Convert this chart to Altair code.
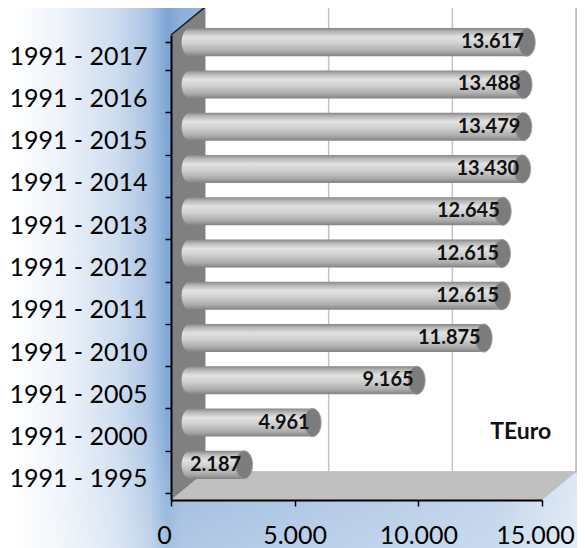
import altair as alt
import pandas as pd

# ---------------- data ----------------
periods = ["1991 - 2017", "1991 - 2016", "1991 - 2015", "1991 - 2014", "1991 - 2013",
           "1991 - 2012", "1991 - 2011", "1991 - 2010", "1991 - 2005", "1991 - 2000",
           "1991 - 1995"]
values = [13617, 13488, 13479, 13430, 12645, 12615, 12615, 11875, 9165, 4961, 2187]
x_ticks = [0, 5000, 10000, 15000]
unit_label = "TEuro"
unit_value_pos = 14140
unit_period_pos = "1991 - 2000"

# ---------------- geometry / style ----------------
W, H = 371, 465
N = len(periods)
X_MAX = 15000
DEPTH_X = 1375      # 3-D depth in value units (~34 px)
DEPTH_Y = 0.66      # 3-D depth in category units (~28 px)
BAR_DX, BAR_DY = 19, -14
FONT = "Lato"

df = pd.DataFrame({"period": periods, "value": values})
df["start"] = 0
df["label"] = [f"{v:,}".replace(",", ".") for v in values]

x_scale = alt.Scale(domain=[0, X_MAX], nice=False, zero=True)
y_band = alt.Scale(domain=periods, paddingInner=0.337, paddingOuter=0.1685)
y_lin = alt.Scale(domain=[0, N], nice=False, zero=False)

x_axis = alt.Axis(values=x_ticks, labelExpr="replace(format(datum.value, ','), ',', '.')",
                  labelFont="Lato", labelFontSize=25, labelColor="black", labelFlush=False,
                  labelOffset={"condition": {"test": f"datum.value == 0 || datum.value == {X_MAX}",
                                             "value": -7}, "value": 0},
                  tickColor="black", tickSize=6, tickWidth=1.5, domainColor="black",
                  domainWidth=2, grid=False, title=None, labelPadding=17, zindex=2)
y_axis = alt.Axis(labelFont="Lato", labelFontSize=25, labelColor="black", tickBand="extent",
                  tickColor="black", tickSize=6, tickWidth=1.5, domainColor="black",
                  domainWidth=2, grid=False, title=None, labelPadding=18, zindex=2)

bar_grad = alt.Gradient(
    gradient="linear", x1=0, x2=0, y1=0, y2=1,
    stops=[alt.GradientStop(offset=0.0, color="#868686"),
           alt.GradientStop(offset=0.12, color="#b4b4b4"),
           alt.GradientStop(offset=0.32, color="#e2e2e2"),
           alt.GradientStop(offset=0.55, color="#cfcfcf"),
           alt.GradientStop(offset=0.82, color="#adadad"),
           alt.GradientStop(offset=1.0, color="#828282")])

bg_grad = alt.Gradient(
    gradient="linear", x1=0, x2=1, y1=0, y2=0,
    stops=[alt.GradientStop(offset=0.0, color="#ffffff"),
           alt.GradientStop(offset=0.02, color="#ffffff"),
           alt.GradientStop(offset=0.1, color="#eef3fa"),
           alt.GradientStop(offset=0.2, color="#cddcef"),
           alt.GradientStop(offset=0.255, color="#a9c3e3"),
           alt.GradientStop(offset=0.286, color="#7ba4d4"),
           alt.GradientStop(offset=0.31, color="#8fb0da"),
           alt.GradientStop(offset=0.55, color="#9fbce0"),
           alt.GradientStop(offset=0.85, color="#b4cbe7"),
           alt.GradientStop(offset=1.0, color="#dae5f3")])

fade_grad = alt.Gradient(
    gradient="linear", x1=0, x2=0, y1=0, y2=1,
    stops=[alt.GradientStop(offset=0.0, color="rgba(255,255,255,0)"),
           alt.GradientStop(offset=0.75, color="rgba(255,255,255,0.05)"),
           alt.GradientStop(offset=1.0, color="rgba(255,255,255,0.3)")])

ELLIPSE = "M0,-1 A0.6,1 0 1,1 0,1 A0.6,1 0 1,1 0,-1 Z"

one = pd.DataFrame({"k": [0]})

background = alt.Chart(one).mark_rect(fill=bg_grad).encode(
    x=alt.value(-170), x2=alt.value(W + 40), y=alt.value(-30), y2=alt.value(H + 50))
fade = alt.Chart(one).mark_rect(fill=fade_grad).encode(
    x=alt.value(-170), x2=alt.value(W + 40), y=alt.value(-30), y2=alt.value(H + 50))

back_df = pd.DataFrame({"x": [DEPTH_X], "x2": [X_MAX + DEPTH_X],
                        "y": [DEPTH_Y], "y2": [N + DEPTH_Y]})
back_wall = alt.Chart(back_df).mark_rect(fill="white", stroke="#b5b5b5", strokeWidth=1.5).encode(
    x=alt.X("x:Q", scale=x_scale, axis=x_axis), x2="x2:Q",
    y=alt.Y("y:Q", scale=y_lin, axis=None), y2="y2:Q")

grid_df = pd.DataFrame({"x": [t + DEPTH_X for t in x_ticks[1:-1]],
                        "y": [DEPTH_Y] * (len(x_ticks) - 2),
                        "y2": [N + DEPTH_Y] * (len(x_ticks) - 2)})
back_grid = alt.Chart(grid_df).mark_rule(color="#c3c3c3", strokeWidth=1.5).encode(
    x=alt.X("x:Q", scale=x_scale, axis=x_axis),
    y=alt.Y("y:Q", scale=y_lin, axis=None), y2="y2:Q")

left_df = pd.DataFrame({"x": [0, DEPTH_X], "top": [N, N + DEPTH_Y], "bottom": [0, DEPTH_Y]})
left_wall = alt.Chart(left_df).mark_area(orient="vertical", fill="#808080").encode(
    x=alt.X("x:Q", scale=x_scale, axis=x_axis),
    y=alt.Y("top:Q", scale=y_lin, axis=None), y2="bottom:Q")

floor_df = pd.DataFrame({"x": [0, DEPTH_X, X_MAX, X_MAX + DEPTH_X],
                         "top": [0, DEPTH_Y, DEPTH_Y, DEPTH_Y],
                         "bottom": [0, 0, 0, DEPTH_Y]})
floor = alt.Chart(floor_df).mark_area(orient="vertical", fill="#c0c0c0").encode(
    x=alt.X("x:Q", scale=x_scale, axis=x_axis),
    y=alt.Y("top:Q", scale=y_lin, axis=None), y2="bottom:Q")

edge_df = pd.DataFrame({"x": [0], "x2": [DEPTH_X], "y": [N], "y2": [N + DEPTH_Y]})
top_edge = alt.Chart(edge_df).mark_rule(color="#1a1a1a", strokeWidth=1.5).encode(
    x=alt.X("x:Q", scale=x_scale, axis=x_axis), x2="x2:Q",
    y=alt.Y("y:Q", scale=y_lin, axis=None), y2="y2:Q")

base = alt.Chart(df)

left_caps = base.mark_point(shape=ELLIPSE, size=784, filled=True, fill=bar_grad, opacity=1,
                            strokeWidth=0, xOffset=BAR_DX, yOffset=BAR_DY).encode(
    x=alt.X("start:Q", scale=x_scale, axis=x_axis),
    y=alt.Y("period:N", sort=periods, scale=y_band, axis=None))

bars = base.mark_bar(fill=bar_grad, xOffset=BAR_DX, x2Offset=BAR_DX,
                     yOffset=BAR_DY, y2Offset=BAR_DY).encode(
    x=alt.X("value:Q", scale=x_scale, axis=x_axis),
    y=alt.Y("period:N", sort=periods, scale=y_band, axis=y_axis))

right_caps = base.mark_point(shape=ELLIPSE, size=784, filled=True, fill="#7c7c7c", opacity=1,
                             stroke="#9c9c9c", strokeWidth=1,
                             xOffset=BAR_DX, yOffset=BAR_DY).encode(
    x=alt.X("value:Q", scale=x_scale, axis=x_axis),
    y=alt.Y("period:N", sort=periods, scale=y_band, axis=None))

labels = base.mark_text(align="right", baseline="middle", font=FONT, fontWeight="bold",
                        fontSize=20, color="#111111", dx=BAR_DX - 3, dy=BAR_DY).encode(
    x=alt.X("value:Q", scale=x_scale, axis=x_axis),
    y=alt.Y("period:N", sort=periods, scale=y_band, axis=None),
    text="label:N")

unit_df = pd.DataFrame({"x": [unit_value_pos], "period": [unit_period_pos], "t": [unit_label]})
unit_text = alt.Chart(unit_df).mark_text(align="center", baseline="middle", font=FONT,
                                         fontWeight="bold", fontSize=23, color="#111111",
                                         dy=-5).encode(
    x=alt.X("x:Q", scale=x_scale, axis=x_axis),
    y=alt.Y("period:N", sort=periods, scale=y_band, axis=None),
    text="t:N")

chart = alt.layer(
    background, fade, back_wall, back_grid, left_wall, floor, top_edge,
    left_caps, bars, right_caps, labels, unit_text
).resolve_scale(y="independent").properties(
    width=W, height=H,
    autosize=alt.AutoSizeParams(type="none"),
    padding={"left": 163, "top": 27, "right": 35, "bottom": 48},
).configure_view(stroke=None)

chart.save("out.html", embed_options={"renderer": "svg", "actions": False})
